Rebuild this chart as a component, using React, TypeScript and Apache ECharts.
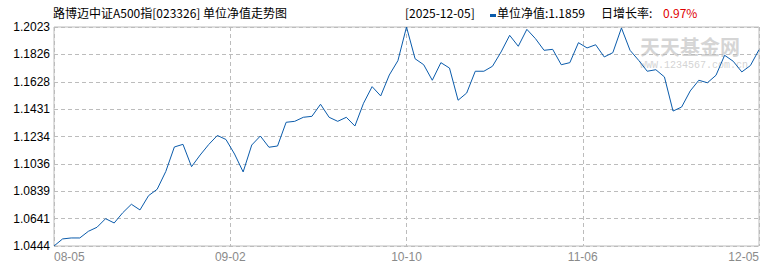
import React, { useEffect, useRef } from "react";
import * as echarts from "echarts";

const fundTitle = "路博迈中证A500指[023326] 单位净值走势图";
const latestDate = "[2025-12-05]";
const navLabel = "单位净值:";
const growthLabel = "日增长率:";
const growthText = "0.97%";

const dates = [
  "2025-08-05", "2025-08-06", "2025-08-07", "2025-08-08", "2025-08-11", "2025-08-12", "2025-08-13", "2025-08-14", "2025-08-15",
  "2025-08-18", "2025-08-19", "2025-08-20", "2025-08-21", "2025-08-22", "2025-08-25", "2025-08-26", "2025-08-27", "2025-08-28",
  "2025-08-29", "2025-09-01", "2025-09-02", "2025-09-03", "2025-09-04", "2025-09-05", "2025-09-08", "2025-09-09", "2025-09-10",
  "2025-09-11", "2025-09-12", "2025-09-15", "2025-09-16", "2025-09-17", "2025-09-18", "2025-09-19", "2025-09-22", "2025-09-23",
  "2025-09-24", "2025-09-25", "2025-09-26", "2025-09-29", "2025-09-30", "2025-10-09", "2025-10-10", "2025-10-13", "2025-10-14",
  "2025-10-15", "2025-10-16", "2025-10-17", "2025-10-20", "2025-10-21", "2025-10-22", "2025-10-23", "2025-10-24", "2025-10-27",
  "2025-10-28", "2025-10-29", "2025-10-30", "2025-10-31", "2025-11-03", "2025-11-04", "2025-11-05", "2025-11-06", "2025-11-07",
  "2025-11-10", "2025-11-11", "2025-11-12", "2025-11-13", "2025-11-14", "2025-11-17", "2025-11-18", "2025-11-19", "2025-11-20",
  "2025-11-21", "2025-11-24", "2025-11-25", "2025-11-26", "2025-11-27", "2025-11-28", "2025-12-01", "2025-12-02", "2025-12-03",
  "2025-12-04", "2025-12-05",
];

const navValues = [
  1.0444, 1.0495, 1.0502, 1.0502, 1.0550, 1.0579, 1.0641, 1.0610, 1.0684, 1.0745,
  1.0704, 1.0807, 1.0853, 1.0981, 1.1158, 1.1177, 1.1016, 1.1100, 1.1176, 1.1241,
  1.1212, 1.1107, 1.0978, 1.1172, 1.1237, 1.1156, 1.1165, 1.1336, 1.1343, 1.1372,
  1.1379, 1.1466, 1.1372, 1.1343, 1.1372, 1.1309, 1.1473, 1.1593, 1.1526, 1.1677,
  1.1780, 1.2023, 1.1794, 1.1751, 1.1639, 1.1766, 1.1727, 1.1495, 1.1547, 1.1704,
  1.1704, 1.1740, 1.1843, 1.1963, 1.1884, 1.2006, 1.1939, 1.1855, 1.1862, 1.1751,
  1.1766, 1.1910, 1.1872, 1.1895, 1.1807, 1.1838, 1.2016, 1.1855, 1.1783, 1.1704,
  1.1715, 1.1663, 1.1417, 1.1446, 1.1562, 1.1639, 1.1621, 1.1675, 1.1819, 1.1776,
  1.1699, 1.1745, 1.1859,
];

const yTickLabels = ["1.0444", "1.0641", "1.0839", "1.1036", "1.1234", "1.1431", "1.1628", "1.1826", "1.2023"];
const xTickLabels = ["08-05", "09-02", "10-10", "11-06", "12-05"];

const LINE_COLOR = "#0a5bab";
const GRID_COLOR = "#bcbcbc";

export default function App() {
  const ref = useRef<HTMLDivElement>(null);
  useEffect(() => {
    if (!ref.current) return;
    const chart = echarts.init(ref.current, undefined, { renderer: "svg" });
    const latest = navValues[navValues.length - 1].toFixed(4);
    const cjk = "'Noto Sans CJK SC', sans-serif";
    chart.setOption({
      animation: false,
      backgroundColor: "#ffffff",
      grid: {
        left: 54,
        right: 11,
        top: 27,
        bottom: 24,
        show: true,
        borderColor: GRID_COLOR,
        borderWidth: 1,
        backgroundColor: "transparent",
      },
      xAxis: [
        {
          type: "category",
          data: dates,
          boundaryGap: false,
          show: false,
        },
        {
          type: "category",
          data: xTickLabels,
          boundaryGap: false,
          position: "bottom",
          axisLine: { show: false },
          axisTick: { show: false },
          axisLabel: {
            color: "#8a8a8a",
            fontSize: 12,
            fontFamily: "'Liberation Sans', sans-serif",
            margin: 5,
            interval: 0,
            alignMinLabel: "left",
            alignMaxLabel: "right",
          },
          splitLine: { show: true, interval: 0, lineStyle: { color: GRID_COLOR, type: [4, 3], width: 1 } },
        },
      ],
      yAxis: [
        {
          type: "value",
          min: 1.0444,
          max: 1.2023,
          show: false,
          splitLine: { show: false },
        },
        {
          type: "category",
          data: yTickLabels,
          boundaryGap: false,
          position: "left",
          axisLine: { show: false },
          axisTick: { show: false },
          axisLabel: {
            color: "#000000",
            fontSize: 12,
            fontFamily: "'Liberation Sans', sans-serif",
            margin: 4,
            interval: 0,
          },
          splitLine: { show: true, interval: 0, lineStyle: { color: GRID_COLOR, type: [4, 3], width: 1 } },
        },
      ],
      graphic: [
        {
          type: "text",
          left: 640,
          top: 36,
          z: 0,
          style: { text: "天天基金网", fill: "rgba(200,200,200,0.75)", font: `bold 20px ${cjk}`, lineHeight: 21 },
        },
        {
          type: "text",
          left: 640,
          top: 60,
          z: 0,
          style: { text: "WWW.1234567.com.cn", fill: "rgba(200,200,200,0.8)", font: "10px 'Liberation Mono', monospace", lineHeight: 10 },
        },
        {
          type: "text",
          left: 53,
          top: 6,
          style: { text: fundTitle, fill: "#000", font: `12px ${cjk}` },
        },
        {
          type: "text",
          left: 405,
          top: 6,
          style: { text: latestDate, fill: "#000", font: `12px ${cjk}` },
        },
        {
          type: "rect",
          left: 490,
          top: 14,
          shape: { width: 6, height: 3 },
          style: { fill: LINE_COLOR },
        },
        {
          type: "text",
          left: 497,
          top: 6,
          style: { text: navLabel + latest, fill: "#000", font: `12px ${cjk}` },
        },
        {
          type: "text",
          left: 601,
          top: 6,
          style: { text: growthLabel, fill: "#000", font: `12px ${cjk}` },
        },
        {
          type: "text",
          left: 663,
          top: 6,
          style: { text: growthText, fill: "#e00000", font: `12px ${cjk}` },
        },
      ],
      series: [
        {
          type: "line",
          xAxisIndex: 0,
          yAxisIndex: 0,
          data: navValues,
          showSymbol: false,
          symbol: "none",
          lineStyle: { color: LINE_COLOR, width: 1 },
          z: 5,
        },
      ],
    });
    return () => chart.dispose();
  }, []);
  return (
    <div
      ref={ref}
      style={{ position: "fixed", left: 0, top: 0, width: 770, height: 270, background: "#fff" }}
    />
  );
}
